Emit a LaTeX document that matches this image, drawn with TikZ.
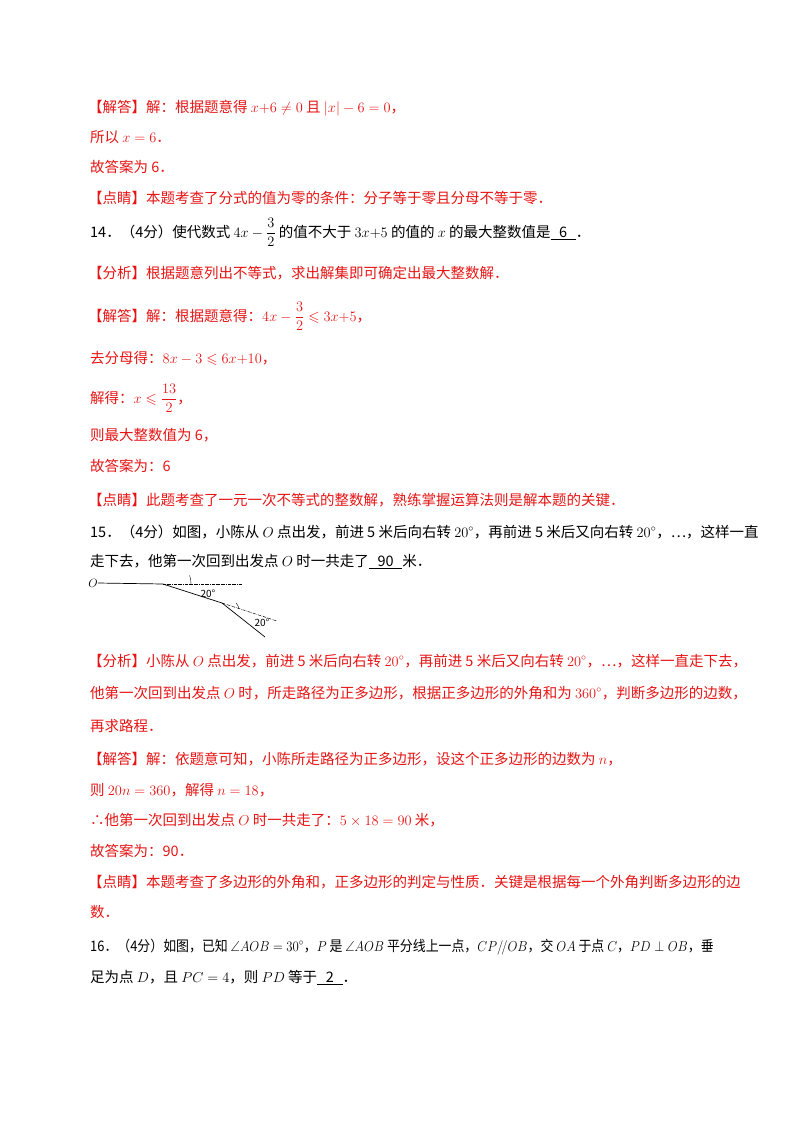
\documentclass[tikz,border=0pt]{standalone}
\usepackage{fontspec}
\setmainfont{Noto Sans CJK SC}
\usepackage{amsmath,amssymb,graphicx}
\usetikzlibrary{calc}
\definecolor{ans}{RGB}{230,20,20}
\newcommand{\ul}[1]{\underline{\hspace{0.6em}#1\hspace{0.6em}}}
\begin{document}
\begin{tikzpicture}[x=1pt,y=-1pt,
  ln/.style={anchor=base west,inner sep=0pt,font=\fontsize{14.5}{16}\selectfont},
  rd/.style={ln,text=ans},
  dd/.style={densely dash dot,line width=0.5pt},
  seg/.style={line width=0.7pt}]
\useasboundingbox (0,0) rectangle (800,1132);
\node[rd] (l1) at (88,112) {【解答】解：根据题意得 $x{+}6\neq0$ 且 $|x|-6=0$，};
\node[rd] (l2) at (90,142) {所以 $x=6$．};
\node[rd] (l3) at (90,172) {故答案为 6．};
\node[rd] (l4) at (88,203) {【点睛】本题考查了分式的值为零的条件：分子等于零且分母不等于零．};
\node[ln] (q14) at (90,237) {14．（4分）使代数式 $4x-\dfrac{3}{2}$ 的值不大于 $3x{+}5$ 的值的 $x$ 的最大整数值是\ul{6}．};
\node[rd] (a1) at (88,278) {【分析】根据题意列出不等式，求出解集即可确定出最大整数解．};
\node[rd] (a2) at (88,321) {【解答】解：根据题意得：$4x-\dfrac{3}{2}\leqslant 3x{+}5$，};
\node[rd] (a3) at (90,363) {去分母得：$8x-3\leqslant 6x{+}10$，};
\node[rd] (a4) at (90,403) {解得：$x\leqslant\dfrac{13}{2}$，};
\node[rd] (a5) at (90,440) {则最大整数值为 6，};
\node[rd] (a6) at (90,471) {故答案为：6};
\node[rd] (a7) at (88,505) {【点睛】此题考查了一元一次不等式的整数解，熟练掌握运算法则是解本题的关键．};
\node[ln] (q15) at (90,537) {15．（4分）如图，小陈从 $O$ 点出发，前进 5 米后向右转 $20^\circ$，再前进 5 米后又向右转 $20^\circ$，…，这样一直};
\node[ln] (q15b) at (90,566) {走下去，他第一次回到出发点 $O$ 时一共走了\ul{90}米．};
% figure
\node[inner sep=0pt,font=\fontsize{12}{12}\selectfont] (O) at (93,583) {$O$};
\coordinate (A) at (163,584);
\coordinate (B) at (222,603);
\coordinate (C) at (265,637);
\coordinate (Ah) at (242,584);
\coordinate (Bh) at (277,621);
\draw[seg] (O.east) -- (A) -- (B) -- (C);
\draw[dd] (A) -- (Ah);
\draw[dd] (B) -- (Bh);
\draw[line width=0.4pt] ($(A)+(28,0)$) arc[start angle=0,end angle=-17.8,radius=28];
\draw[line width=0.4pt] ($(B)!18pt!(Bh)$) arc[start angle=-17.8,end angle=-38.3,radius=18];
\node[inner sep=0pt,font=\fontsize{10}{10}\selectfont] (t1) at (208,594) {20°};
\node[inner sep=0pt,font=\fontsize{10}{10}\selectfont] (t2) at (262,623) {20°};
\node[rd] (b1) at (88,666) {【分析】小陈从 $O$ 点出发，前进 5 米后向右转 $20^\circ$，再前进 5 米后又向右转 $20^\circ$，…，这样一直走下去，};
\node[rd] (b2) at (90,698) {他第一次回到出发点 $O$ 时，所走路径为正多边形，根据正多边形的外角和为 $360^\circ$，判断多边形的边数，};
\node[rd] (b3) at (90,731) {再求路程．};
\node[rd] (b4) at (88,764) {【解答】解：依题意可知，小陈所走路径为正多边形，设这个正多边形的边数为 $n$，};
\node[rd] (b5) at (90,795) {则 $20n=360$，解得 $n=18$，};
\node[rd] (b6) at (90,825) {∴他第一次回到出发点 $O$ 时一共走了：$5\times18=90$ 米，};
\node[rd] (b7) at (90,856) {故答案为：90．};
\node[rd] (b8) at (88,887) {【点睛】本题考查了多边形的外角和，正多边形的判定与性质．关键是根据每一个外角判断多边形的边};
\node[rd] (b9) at (90,917) {数．};
\node[ln] (q16) at (90,951) {\scalebox{0.89}[1]{16．（4分）如图，已知 $\angle AOB=30^\circ$，$P$ 是 $\angle AOB$ 平分线上一点，$CP/\!/OB$，交 $OA$ 于点 $C$，$PD\perp OB$，垂}};
\node[ln] (q16b) at (90,982) {足为点 $D$，且 $PC=4$，则 $PD$ 等于\ul{2}．};
\end{tikzpicture}
\end{document}
